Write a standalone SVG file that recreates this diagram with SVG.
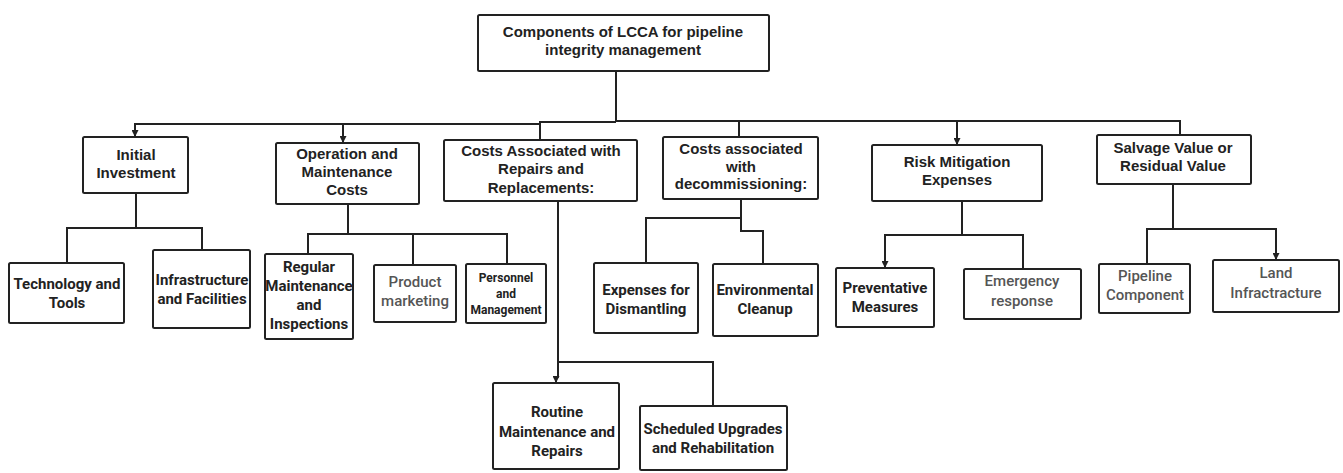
<svg xmlns="http://www.w3.org/2000/svg" width="1343" height="473" viewBox="0 0 1343 473">
<style>
.bg{fill:#fff}
.box{fill:#fff;stroke:#222;stroke-width:2}
.t{font-family:"Liberation Sans",Arial,sans-serif;font-weight:bold;font-size:15px;text-anchor:middle;fill:#222}
.r{font-family:Roboto,"Liberation Sans",sans-serif;font-weight:bold;font-size:15px;text-anchor:middle;fill:#222}
.g{font-family:Roboto,"Liberation Sans",sans-serif;font-weight:500;font-size:15px;text-anchor:middle;fill:#555}
.s{font-size:12px}
.c{fill:none;stroke:#222;stroke-width:2}
</style>
<defs>
<marker id="ah" viewBox="0 0 8 8" refX="8" refY="4" markerWidth="7" markerHeight="7" markerUnits="userSpaceOnUse" orient="auto">
<path d="M0,0 L8,4 L0,8 Z" fill="#222"/>
</marker>
</defs>
<rect class="bg" x="0" y="0" width="1343" height="473"/>
<g id="connectors">
<path class="c" d="M616,71 V122"/>
<path class="c" d="M616,122 H540 V140"/>
<path class="c" d="M540,124 H135 V137" marker-end="url(#ah)"/>
<path class="c" d="M343,123 V143" marker-end="url(#ah)"/>
<path class="c" d="M616,121 H1180 V135"/>
<path class="c" d="M739,121 V137"/>
<path class="c" d="M957,121 V145" marker-end="url(#ah)"/>
<path class="c" d="M136,193 V228 H67 V263"/>
<path class="c" d="M136,228 H202 V250"/>
<path class="c" d="M348,204 V234 H308 V254"/>
<path class="c" d="M348,234 H507 V264"/>
<path class="c" d="M413,234 V265"/>
<path class="c" d="M558,201 V377 L556,378 V383" marker-end="url(#ah)"/>
<path class="c" d="M558,362 H713 V406"/>
<path class="c" d="M741,199 V218 H646 V263"/>
<path class="c" d="M741,218 V231 H763 V264"/>
<path class="c" d="M962,201 V235 H885 V268" marker-end="url(#ah)"/>
<path class="c" d="M962,235 H1023 V269"/>
<path class="c" d="M1173,184 V229 H1147 V264"/>
<path class="c" d="M1173,229 H1276 V260" marker-end="url(#ah)"/>
</g>
<g id="root">
<rect class="box" x="478" y="15" width="291" height="56" rx="1.5"/>
<text class="t" x="623" y="37">Components of LCCA for pipeline</text>
<text class="t" x="623" y="55">integrity management</text>
</g>
<g id="initial">
<rect class="box" x="83" y="137" width="105" height="56" rx="1.5"/>
<text class="t" x="136" y="160">Initial</text>
<text class="t" x="136" y="178">Investment</text>
</g>
<g id="om">
<rect class="box" x="276" y="143" width="143" height="61" rx="1.5"/>
<text class="t" x="347" y="159">Operation and</text>
<text class="t" x="347" y="177">Maintenance</text>
<text class="t" x="347" y="195">Costs</text>
</g>
<g id="repairs">
<rect class="box" x="444" y="140" width="193" height="61" rx="1.5"/>
<text class="t" x="541" y="156">Costs Associated with</text>
<text class="t" x="541" y="174">Repairs and</text>
<text class="t" x="541" y="193">Replacements:</text>
</g>
<g id="decom">
<rect class="box" x="663" y="137" width="155" height="62" rx="1.5"/>
<text class="t" x="741" y="154">Costs associated</text>
<text class="t" x="741" y="172">with</text>
<text class="t" x="741" y="189">decommissioning:</text>
</g>
<g id="risk">
<rect class="box" x="872" y="145" width="170" height="56" rx="1.5"/>
<text class="t" x="957" y="167">Risk Mitigation</text>
<text class="t" x="957" y="185">Expenses</text>
</g>
<g id="salvage">
<rect class="box" x="1097" y="135" width="154" height="49" rx="1.5"/>
<text class="t" x="1173" y="153">Salvage Value or</text>
<text class="t" x="1173" y="171">Residual Value</text>
</g>
<g id="tech">
<rect class="box" x="9" y="263" width="115" height="60" rx="1.5"/>
<text class="r" x="67" y="289">Technology and</text>
<text class="r" x="67" y="308">Tools</text>
</g>
<g id="infra">
<rect class="box" x="153" y="250" width="97" height="78" rx="1.5"/>
<text class="r" x="202" y="285">Infrastructure</text>
<text class="r" x="202" y="304">and Facilities</text>
</g>
<g id="regular">
<rect class="box" x="265" y="254" width="88" height="85" rx="1.5"/>
<text class="r" x="309" y="272">Regular</text>
<text class="r" x="309" y="291">Maintenance</text>
<text class="r" x="309" y="310">and</text>
<text class="r" x="309" y="329">Inspections</text>
</g>
<g id="product">
<rect class="box" x="374" y="265" width="82" height="57" rx="1.5"/>
<text class="g" x="415" y="287">Product</text>
<text class="g" x="415" y="306">marketing</text>
</g>
<g id="personnel">
<rect class="box" x="466" y="264" width="80" height="59" rx="1.5"/>
<text class="r s" x="506" y="282">Personnel</text>
<text class="r s" x="506" y="298">and</text>
<text class="r s" x="506" y="314">Management</text>
</g>
<g id="dismantling">
<rect class="box" x="594" y="263" width="104" height="70" rx="1.5"/>
<text class="r" x="646" y="295">Expenses for</text>
<text class="r" x="646" y="314">Dismantling</text>
</g>
<g id="cleanup">
<rect class="box" x="713" y="264" width="105" height="72" rx="1.5"/>
<text class="r" x="765" y="295">Environmental</text>
<text class="r" x="765" y="314">Cleanup</text>
</g>
<g id="preventative">
<rect class="box" x="836" y="268" width="98" height="59" rx="1.5"/>
<text class="r" x="885" y="293">Preventative</text>
<text class="r" x="885" y="312">Measures</text>
</g>
<g id="emergency">
<rect class="box" x="964" y="269" width="117" height="50" rx="1.5"/>
<text class="g" x="1022" y="286">Emergency</text>
<text class="g" x="1022" y="306">response</text>
</g>
<g id="pipeline">
<rect class="box" x="1099" y="264" width="91" height="49" rx="1.5"/>
<text class="g" x="1145" y="281">Pipeline</text>
<text class="g" x="1145" y="300">Component</text>
</g>
<g id="land">
<rect class="box" x="1213" y="260" width="126" height="52" rx="1.5"/>
<text class="g" x="1276" y="278">Land</text>
<text class="g" x="1276" y="298">Infractracture</text>
</g>
<g id="routine">
<rect class="box" x="493" y="383" width="126" height="86" rx="1.5"/>
<text class="r" x="557" y="417">Routine</text>
<text class="r" x="557" y="437">Maintenance and</text>
<text class="r" x="557" y="456">Repairs</text>
</g>
<g id="scheduled">
<rect class="box" x="640" y="406" width="147" height="64" rx="1.5"/>
<text class="r" x="713" y="434">Scheduled Upgrades</text>
<text class="r" x="713" y="453">and Rehabilitation</text>
</g>
</svg>
